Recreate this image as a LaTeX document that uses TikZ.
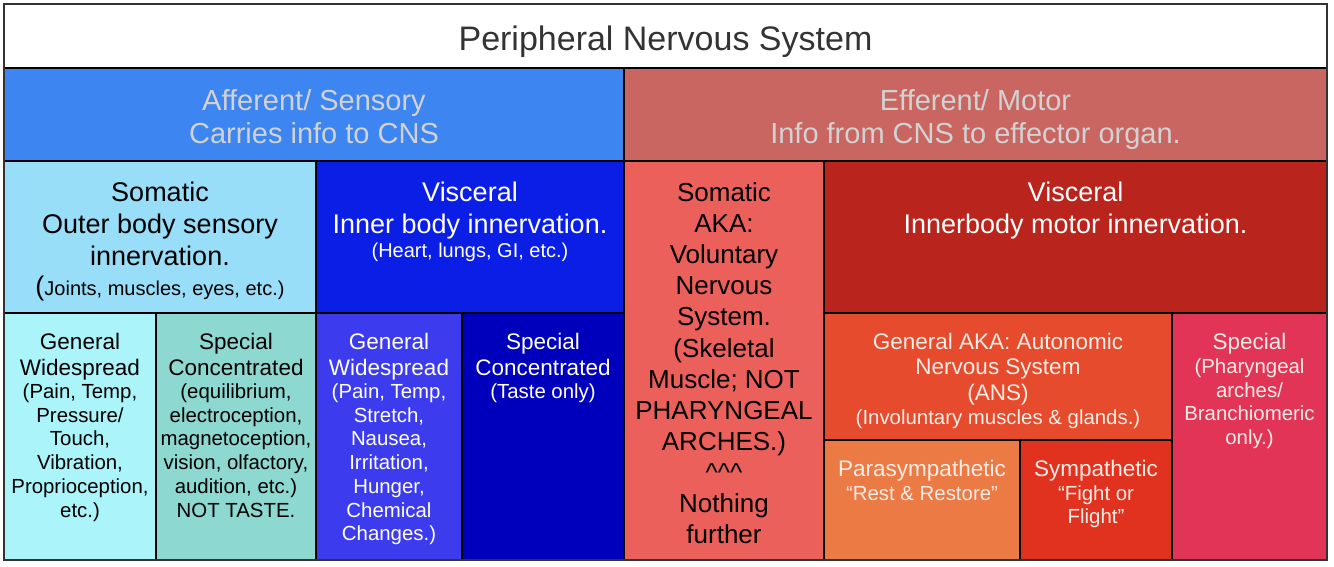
\documentclass[tikz,border=0pt]{standalone}
\usepackage{fontspec}
\setmainfont{Liberation Sans}
\definecolor{titletxt}{HTML}{333333}
\definecolor{hdrtxt}{HTML}{D2D2D2}
\definecolor{afferent}{HTML}{3D85F0}
\definecolor{efferent}{HTML}{C96661}
\definecolor{somaff}{HTML}{98DEF9}
\definecolor{visaff}{HTML}{0A1EE6}
\definecolor{gwsom}{HTML}{AAF4FA}
\definecolor{scsom}{HTML}{8DD9D1}
\definecolor{gwvis}{HTML}{3C3CEE}
\definecolor{scvis}{HTML}{0000BC}
\definecolor{someff}{HTML}{EB605A}
\definecolor{viseff}{HTML}{B9241C}
\definecolor{ans}{HTML}{E54B2C}
\definecolor{speceff}{HTML}{E13457}
\definecolor{parasym}{HTML}{EC7A45}
\definecolor{sym}{HTML}{E1321F}
\definecolor{lighttxt}{HTML}{FBEDE6}
\newcommand{\fsz}[2]{\fontsize{#1}{#2}\selectfont}
\begin{document}
\begin{tikzpicture}[x=1pt,y=-1pt,
  cell/.style={draw=black,line width=2pt},
  txt/.style={anchor=north,inner sep=0pt,align=center},
  one/.style={anchor=base,inner sep=0pt}]
\useasboundingbox (0,0) rectangle (1334,567);
\fill[white] (0,0) rectangle (1334,567);
% cells
\path[cell,fill=white]    (4,4)     rectangle (1327,68);
\path[cell,fill=afferent] (4,68)    rectangle (624,161);
\path[cell,fill=efferent] (624,68)  rectangle (1327,161);
\path[cell,fill=somaff]   (4,161)   rectangle (316,313);
\path[cell,fill=visaff]   (316,161) rectangle (624,313);
\path[cell,fill=gwsom]    (4,313)   rectangle (156,560);
\path[cell,fill=scsom]    (156,313) rectangle (316,560);
\path[cell,fill=gwvis]    (316,313) rectangle (462,560);
\path[cell,fill=scvis]    (462,313) rectangle (624,560);
\path[cell,fill=someff]   (624,161) rectangle (824,560);
\path[cell,fill=viseff]   (824,161) rectangle (1327,313);
\path[cell,fill=ans]      (824,313) rectangle (1172,440);
\path[cell,fill=speceff]  (1172,313) rectangle (1327,560);
\path[cell,fill=parasym]  (824,440) rectangle (1020,560);
\path[cell,fill=sym]      (1020,440) rectangle (1172,560);
\draw[line width=2pt,draw=titletxt] (4,4) rectangle (1327,560);
% texts
\node[one,text=titletxt,font=\fsz{34}{40}] (title) at (665.5,50.2) {Peripheral Nervous System};
\node[txt,text=hdrtxt,font=\fsz{29}{33}] (aff) at (314,87.3) {\strut Afferent/ Sensory\\Carries info to CNS};
\node[txt,text=hdrtxt,font=\fsz{29}{33}] (eff) at (975.5,87.3) {\strut Efferent/ Motor\\Info from CNS to effector organ.};
\node[txt,text=black,font=\fsz{27}{32}] (somaffh) at (160,179.3) {\strut Somatic\\Outer body sensory\\innervation.};
\node[one,text=black,font=\fsz{20}{24}] (somaffd) at (160,295.2) {{\fsz{27}{32}(}Joints, muscles, eyes, etc.)};
\node[txt,text=white,font=\fsz{27}{32}] (visaffh) at (470,179.3) {\strut Visceral\\Inner body innervation.};
\node[one,text=white,font=\fsz{20}{24}] (visaffd) at (470,257.2) {(Heart, lungs, GI, etc.)};
% row 4 afferent
\node[txt,text=black,font=\fsz{22.5}{26}] (gwsomh) at (80,330.6) {\strut General\\Widespread};
\node[txt,text=black,font=\fsz{20.4}{23.7}] (gwsomd) at (80,381.75) {\strut (Pain, Temp,\\Pressure/\\Touch,\\Vibration,\\Proprioception,\\etc.)};
\node[txt,text=black,font=\fsz{22.5}{26}] (scsomh) at (236,330.6) {\strut Special\\Concentrated};
\node[txt,text=black,font=\fsz{20.4}{23.7}] (scsomd) at (236,381.75) {\strut (equilibrium,\\electroception,\\magnetoception,\\vision, olfactory,\\audition, etc.)\\NOT TASTE.};
\node[txt,text=white,font=\fsz{22.5}{26}] (gwvish) at (389,330.6) {\strut General\\Widespread};
\node[txt,text=white,font=\fsz{20.4}{23.7}] (gwvisd) at (389,381.75) {\strut (Pain, Temp,\\Stretch,\\Nausea,\\Irritation,\\Hunger,\\Chemical\\Changes.)};
\node[txt,text=white,font=\fsz{22.5}{26}] (scvish) at (543,330.6) {\strut Special\\Concentrated};
\node[txt,text=white,font=\fsz{20.4}{23.7}] (scvisd) at (543,381.75) {\strut (Taste only)};
% efferent
\node[txt,text=black,font=\fsz{26}{31.1}] (someff) at (724,179.6) {\strut Somatic\\AKA:\\Voluntary\\Nervous\\System.\\(Skeletal\\Muscle; NOT\\PHARYNGEAL\\ARCHES.)\\\textasciicircum\textasciicircum\textasciicircum\\Nothing\\further};
\node[txt,text=white,font=\fsz{27}{32}] (viseffh) at (1075.5,179.3) {\strut Visceral\\Innerbody motor innervation.};
\node[txt,text=lighttxt,font=\fsz{22.5}{25.5}] (ansh) at (998,330.95) {\strut General AKA: Autonomic\\Nervous System\\(ANS)};
\node[one,text=lighttxt,font=\fsz{20.4}{24}] (ansd) at (998,424.3) {(Involuntary muscles \& glands.)};
\node[one,text=lighttxt,font=\fsz{22.5}{26}] (parah) at (922,476.1) {Parasympathetic};
\node[one,text=lighttxt,font=\fsz{20.4}{24}] (parad) at (922,500.3) {“Rest \& Restore”};
\node[one,text=lighttxt,font=\fsz{22.5}{26}] (symh) at (1096,476.1) {Sympathetic};
\node[txt,text=lighttxt,font=\fsz{20.4}{22.5}] (symd) at (1096,484.6) {\strut “Fight or\\Flight”};
\node[one,text=lighttxt,font=\fsz{22.5}{26}] (spech) at (1249.5,349.1) {Special};
\node[txt,text=lighttxt,font=\fsz{20.4}{23.7}] (specd) at (1249.5,356.75) {\strut (Pharyngeal\\arches/\\Branchiomeric\\only.)};
\end{tikzpicture}
\end{document}
